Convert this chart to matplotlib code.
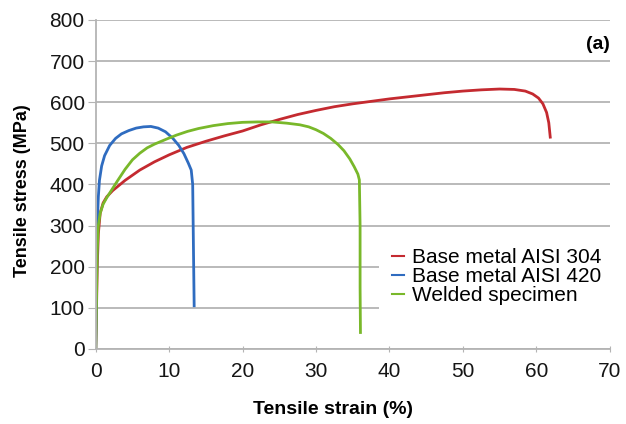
import matplotlib
matplotlib.use("Agg")
import matplotlib.pyplot as plt

plt.rcParams['font.family'] = ['Liberation Sans', 'DejaVu Sans']

# stress-strain curves (strain in %, stress in MPa)
red_strain = [0, 0.1, 0.2, 0.35, 0.6, 1.0, 1.5, 2.3, 4, 6, 8, 10, 12.4, 15, 17.5, 20,
              22.5, 25, 27.5, 30, 32.5, 35, 37.5, 40, 42.5, 45, 47.5, 50, 52.5, 55,
              57, 58.5, 59.5, 60.3, 60.9, 61.4, 61.7, 61.9]
red_stress = [0, 100, 200, 280, 330, 355, 370, 385, 410, 435, 455, 472, 490, 505, 518, 530,
              545, 558, 570, 580, 589, 596, 602, 608, 613, 618, 623, 627, 630, 632,
              631, 627, 620, 610, 596, 575, 550, 515]

blue_strain = [0, 0.1, 0.2, 0.35, 0.5, 0.8, 1.2, 1.9, 2.7, 3.5, 4.5, 5.5, 6.5, 7.5,
               8.5, 9.5, 10.5, 11.3, 12.0, 12.6, 13.0, 13.2, 13.3, 13.4]
blue_stress = [0, 150, 300, 370, 410, 445, 470, 495, 512, 523, 531, 537, 540, 541,
               537, 528, 512, 495, 475, 452, 435, 400, 250, 105]

green_strain = [0, 0.1, 0.2, 0.35, 0.6, 1.0, 1.5, 2, 3, 4, 5, 6, 7, 8, 9.6, 11, 12.5,
                14, 16, 18, 20, 22, 24, 26, 27.8, 29, 30, 31, 32, 33, 33.8, 34.6, 35.2,
                35.7, 35.9, 36.0, 36.0, 36.05]
green_stress = [0, 120, 240, 300, 330, 352, 368, 382, 410, 437, 460, 476, 489, 498, 510,
                520, 529, 536, 543, 548, 551, 552, 552, 549, 545, 540, 533, 524, 512, 497,
                482, 462, 443, 425, 411, 300, 150, 40]

labels = ['Base metal AISI 304', 'Base metal AISI 420', 'Welded specimen']
colors = ['#c42a30', '#2f6cc0', '#79b82a']

fig = plt.figure(figsize=(6.26, 4.24), dpi=100)
ax = fig.add_axes([0.153, 0.177, 0.821, 0.776])

ax.plot(red_strain, red_stress, color=colors[0], lw=2.0, label=labels[0])
ax.plot(blue_strain, blue_stress, color=colors[1], lw=2.0, label=labels[1])
ax.plot(green_strain, green_stress, color=colors[2], lw=2.0, label=labels[2])

ax.set_xlim(0, 70)
ax.set_ylim(0, 800)
ax.set_xticks(range(0, 71, 10))
ax.set_yticks(range(0, 801, 100))
ax.yaxis.grid(True, color='#b4b4b4', lw=1.3)
ax.set_axisbelow(True)

for side in ['top', 'right']:
    ax.spines[side].set_visible(False)
for side in ['left', 'bottom']:
    ax.spines[side].set_color('#b4b4b4')
    ax.spines[side].set_linewidth(1.3)

ax.tick_params(axis='both', labelsize=15, colors='#b4b4b4', labelcolor='#151515')
ax.tick_params(axis='x', direction='inout', length=5, pad=7)
ax.tick_params(axis='y', length=6, pad=2)

ax.set_xlabel('Tensile strain (%)', fontsize=14, fontweight='bold', va='center')
ax.set_ylabel('Tensile stress (MPa)', fontsize=13, fontweight='bold', va='center')
ax.xaxis.set_label_coords(0.461, -0.185)
ax.yaxis.set_label_coords(-0.143, 0.48)

ax.text(1.0, 0.924, '(a)', transform=ax.transAxes, ha='right', va='center',
        fontsize=14, fontweight='bold')

leg = ax.legend(loc='upper left', bbox_to_anchor=(0.552, 0.345), frameon=True,
                facecolor='white', edgecolor='none', framealpha=1, fancybox=False,
                fontsize=15, handlelength=0.6, handletextpad=0.35, labelspacing=0.0,
                borderpad=0.6, borderaxespad=0)
for line in leg.get_lines():
    line.set_linewidth(1.5)

fig.savefig('out.png', dpi=100)
